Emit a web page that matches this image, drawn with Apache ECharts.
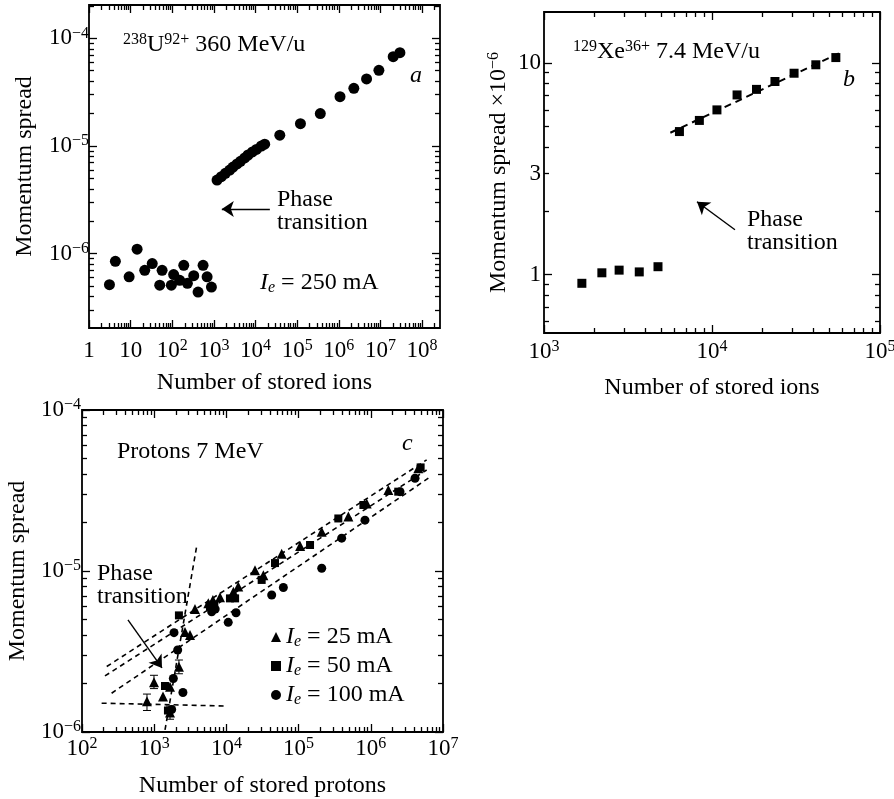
<!DOCTYPE html>
<html>
<head>
<meta charset="utf-8">
<title>Momentum spread vs number of stored particles</title>
<script src="https://cdn.jsdelivr.net/npm/echarts@6/dist/echarts.min.js"></script>
<style>
  html, body { margin: 0; padding: 0; background: #fff; }
  #chart { width: 894px; height: 799px; }
</style>
</head>
<body>
<div id="chart"></div>
<script>
const SERIF = '"Liberation Serif", "Times New Roman", Times, serif';
const INK = '#000';

// ---- panel a: 238U92+ 360 MeV/u, Ie = 250 mA ----
const uIonsLow = [3.1, 4.3, 9.2, 14.3, 21.8, 33, 50, 57, 95, 108, 151, 189, 231, 328, 417, 550, 687, 872];
const uSpreadLow = [5.15e-7, 8.5e-7, 6.1e-7, 1.1e-6, 7.0e-7, 8.1e-7, 5.1e-7, 7.0e-7, 5.1e-7, 6.4e-7, 5.65e-7, 7.8e-7, 5.3e-7, 6.25e-7, 4.4e-7, 7.8e-7, 6.1e-7, 4.9e-7];
const uIonsHigh = [1190, 1510, 1890, 2400, 2880, 3610, 4350, 5500, 6610, 8430, 10500, 13800, 16600, 38300, 1.2e5, 3.6e5, 1.07e6, 2.3e6, 4.65e6, 9.2e6, 2.03e7, 2.94e7];
const uSpreadHigh = [4.83e-6, 5.19e-6, 5.57e-6, 5.98e-6, 6.38e-6, 6.81e-6, 7.21e-6, 7.74e-6, 8.25e-6, 8.8e-6, 9.3e-6, 1.0e-5, 1.04e-5, 1.26e-5, 1.61e-5, 2.0e-5, 2.87e-5, 3.43e-5, 4.2e-5, 5.05e-5, 6.76e-5, 7.36e-5];
const arrowA = [[22100, 2.6e-6], [1550, 2.6e-6]];

// ---- panel b: 129Xe36+ 7.4 MeV/u (spread in units of 1e-6) ----
const xeIons = [1680, 2210, 2800, 3690, 4770, 6400, 8410, 10700, 14100, 18400, 23700, 30800, 41500, 54600];
const xeSpread = [0.91, 1.02, 1.05, 1.03, 1.09, 4.74, 5.35, 6.0, 7.06, 7.5, 8.17, 8.94, 9.8, 10.6];
const xeFit = [[5650, 4.68], [56900, 11.1]];
const arrowB = [[13700, 1.63], [8140, 2.21]];

// ---- panel c: protons 7 MeV ----
const p25Ions = [794, 993, 1325, 1656, 1656, 2200, 2670, 3130, 3670, 5620, 6500, 8150, 12500, 14600, 24900, 32500, 58300, 1.05e5, 2.09e5, 4.89e5, 8.77e5, 1.75e6, 4.55e6];
const p25Spread = [1.55e-6, 2.04e-6, 1.66e-6, 1.91e-6, 1.32e-6, 2.54e-6, 4.18e-6, 4.0e-6, 5.8e-6, 6.3e-6, 6.6e-6, 6.86e-6, 7.44e-6, 8.0e-6, 1.01e-5, 9.4e-6, 1.28e-5, 1.43e-5, 1.75e-5, 2.18e-5, 2.63e-5, 3.19e-5, 4.35e-5];
const p50Ions = [1410, 1550, 2200, 5930, 6800, 11200, 13200, 30800, 47100, 1.44e5, 3.55e5, 7.9e5, 2.4e6, 4.9e6];
const p50Spread = [1.93e-6, 1.36e-6, 5.3e-6, 6.0e-6, 6.2e-6, 6.76e-6, 6.76e-6, 8.8e-6, 1.12e-5, 1.45e-5, 2.12e-5, 2.57e-5, 3.11e-5, 4.4e-5];
const p100Ions = [1746, 1840, 1880, 2115, 2500, 6250, 7000, 10600, 13600, 42400, 61500, 2.09e5, 3.95e5, 8.3e5, 2.54e6, 4.1e6];
const p100Spread = [1.38e-6, 2.15e-6, 4.14e-6, 3.23e-6, 1.76e-6, 5.58e-6, 5.8e-6, 4.8e-6, 5.5e-6, 7.1e-6, 7.9e-6, 1.04e-5, 1.6e-5, 2.07e-5, 3.11e-5, 3.77e-5];
const errIons = [794, 993, 1656, 2200];
const errLow = [1.36e-6, 1.86e-6, 1.2e-6, 2.3e-6];
const errHigh = [1.72e-6, 2.25e-6, 1.45e-6, 2.8e-6];
const fitUpper = [[220, 2.55e-6], [5.94e6, 4.9e-5]];
const fitMiddle = [[208, 2.23e-6], [5.94e6, 4.24e-5]];
const fitLower = [[257, 1.74e-6], [6.27e6, 3.77e-5]];
const fitSteep = [[1412, 1.03e-6], [3870, 1.42e-5]];
const fitFlat = [[187, 1.51e-6], [10000, 1.45e-6]];
const arrowC = [[433, 4.97e-6], [1282, 2.5e-6]];

// tick labels
const xLabelsA = [1, 10, 1e2, 1e3, 1e4, 1e5, 1e6, 1e7, 1e8];
const yLabelsA = [1e-6, 1e-5, 1e-4];
const xLabelsB = [1e3, 1e4, 1e5];
const yLabelsB = [1, 3, 10];
const yMajorB = [1, 10];
const xLabelsC = [1e2, 1e3, 1e4, 1e5, 1e6, 1e7];
const yLabelsC = [1e-6, 1e-5, 1e-4];

const RICH = {
  n: { fontFamily: SERIF, fontSize: 23, lineHeight: 26, color: INK, fill: INK },
  s: { fontFamily: SERIF, fontSize: 16, lineHeight: 15, verticalAlign: 'top', color: INK, fill: INK },
  e: { fontFamily: SERIF, fontSize: 16, lineHeight: 14, fontStyle: 'italic', verticalAlign: 'bottom', color: INK, fill: INK },
  i: { fontFamily: SERIF, fontSize: 24, lineHeight: 26, fontStyle: 'italic', color: INK, fill: INK },
  t: { fontFamily: SERIF, fontSize: 24, lineHeight: 26, color: INK, fill: INK },
};

const zip = (xs, ys) => xs.map((x, i) => [x, ys[i]]);

function minorTicks(min, max) {
  const out = [];
  for (let d = Math.floor(Math.log10(min)); d <= Math.ceil(Math.log10(max)); d++) {
    for (let k = 2; k <= 9; k++) {
      const v = k * Math.pow(10, d);
      if (v > min && v < max) out.push(v);
    }
  }
  return out;
}

function powLabel(v) {
  const e = Math.round(Math.log10(v));
  if (e === 0) return '{n|1}';
  if (e === 1) return '{n|10}';
  return '{n|10}{s|' + (e < 0 ? '\u2212' + (-e) : e) + '}';
}

const xAxes = [];
const yAxes = [];

// four stacked axes per direction: labelled major, minor, mirrored major, mirrored minor
function logAxes(dim, grid, range, opt) {
  const list = dim === 'x' ? xAxes : yAxes;
  const sides = dim === 'x' ? ['bottom', 'top'] : ['left', 'right'];
  const first = list.length;
  const minors = minorTicks(range[0], range[1]);
  sides.forEach((side, s) => {
    [opt.majors, minors].forEach((ticks, m) => {
      const main = s === 0 && m === 0;
      list.push({
        type: 'log',
        logBase: 10,
        gridIndex: grid,
        position: side,
        min: range[0],
        max: range[1],
        silent: true,
        axisLine: { show: false, onZero: false },
        splitLine: { show: false },
        axisTick: {
          show: true,
          inside: true,
          length: m === 0 ? 8 : 5,
          customValues: ticks,
          lineStyle: { color: INK, width: 1.3 },
        },
        axisLabel: main ? {
          show: true,
          customValues: opt.labels,
          formatter: opt.format,
          margin: opt.margin,
          color: INK,
          fontFamily: SERIF,
          fontSize: 23,
          rich: RICH,
        } : { show: false },
        name: main ? opt.name : '',
        nameLocation: 'middle',
        nameGap: opt.nameGap,
        nameTextStyle: { color: INK, fontFamily: SERIF, fontSize: 24, rich: RICH },
      });
    });
  });
  return first;
}

const grids = [
  { left: 89, top: 5, width: 351, height: 323 },
  { left: 544, top: 12, width: 336, height: 321 },
  { left: 82, top: 410, width: 361, height: 322 },
].map((g) => ({ ...g, show: true, borderColor: INK, borderWidth: 1.8, backgroundColor: 'transparent', containLabel: false, outerBoundsMode: 'none' }));

const xa = logAxes('x', 0, [1, 2.7e8], { majors: xLabelsA, labels: xLabelsA, format: powLabel, margin: 10, name: 'Number of stored ions', nameGap: 43 });
const ya = logAxes('y', 0, [2.04e-7, 2.04e-4], { majors: yLabelsA, labels: yLabelsA, format: powLabel, margin: 0, name: 'Momentum spread', nameGap: 52 });
const xb = logAxes('x', 1, [999.9, 100010], { majors: xLabelsB, labels: xLabelsB, format: powLabel, margin: 6, name: 'Number of stored ions', nameGap: 43 });
const yb = logAxes('y', 1, [0.53, 17.4], { majors: yMajorB, labels: yLabelsB, format: (v) => '{n|' + v + '}', margin: 3, name: '{t|Momentum spread \u00d710}{s|\u22126}', nameGap: 32 });
const xc = logAxes('x', 2, [99.99, 1.0001e7], { majors: xLabelsC, labels: xLabelsC, format: powLabel, margin: 4, name: 'Number of stored protons', nameGap: 42 });
const yc = logAxes('y', 2, [0.9999e-6, 1.0001e-4], { majors: yLabelsC, labels: yLabelsC, format: powLabel, margin: 1, name: 'Momentum spread', nameGap: 52 });

function arrowLine(pts) {
  return {
    silent: true,
    animation: false,
    symbol: ['none', 'arrow'],
    symbolSize: 12,
    label: { show: false },
    emphasis: { disabled: true },
    lineStyle: { color: INK, width: 1.4, type: 'solid' },
    data: [[{ coord: pts[0] }, { coord: pts[1] }]],
  };
}

function dots(name, xi, yi, data, symbol, size, extra) {
  return {
    name, type: 'scatter', xAxisIndex: xi, yAxisIndex: yi, data,
    symbol, symbolSize: size, itemStyle: { color: INK, opacity: 1 },
    silent: true, z: 3, ...extra,
  };
}

function dashed(xi, yi, data, width, dash) {
  return {
    type: 'line', xAxisIndex: xi, yAxisIndex: yi, data,
    symbol: 'none', silent: true,
    lineStyle: { color: INK, width, type: dash },
  };
}

const series = [
  dots('U low', xa, ya, zip(uIonsLow, uSpreadLow), 'circle', 11),
  dots('U high', xa, ya, zip(uIonsHigh, uSpreadHigh), 'circle', 11, { markLine: arrowLine(arrowA) }),

  dashed(xb, yb, xeFit, 2, [7, 5]),
  dots('Xe', xb, yb, zip(xeIons, xeSpread), 'rect', 9, { markLine: arrowLine(arrowB) }),

  dashed(xc, yc, fitUpper, 1.6, [5, 4]),
  dashed(xc, yc, fitMiddle, 1.6, [5, 4]),
  dashed(xc, yc, fitLower, 1.6, [5, 4]),
  dashed(xc, yc, fitSteep, 1.6, [5, 4]),
  dashed(xc, yc, fitFlat, 1.6, [5, 4]),
  {
    type: 'custom', xAxisIndex: xc, yAxisIndex: yc, silent: true,
    data: errIons.map((x, i) => [x, errLow[i], errHigh[i]]),
    renderItem(params, api) {
      const lo = api.coord([api.value(0), api.value(1)]);
      const hi = api.coord([api.value(0), api.value(2)]);
      const st = { stroke: INK, lineWidth: 1 };
      return {
        type: 'group',
        children: [
          { type: 'line', shape: { x1: lo[0], y1: lo[1], x2: hi[0], y2: hi[1] }, style: st },
          { type: 'line', shape: { x1: lo[0] - 4, y1: lo[1], x2: lo[0] + 4, y2: lo[1] }, style: st },
          { type: 'line', shape: { x1: hi[0] - 4, y1: hi[1], x2: hi[0] + 4, y2: hi[1] }, style: st },
        ],
      };
    },
  },
  dots('25', xc, yc, zip(p25Ions, p25Spread), 'triangle', 10, { markLine: arrowLine(arrowC) }),
  dots('50', xc, yc, zip(p50Ions, p50Spread), 'rect', 8),
  dots('100', xc, yc, zip(p100Ions, p100Spread), 'circle', 9),
];

function note(x, y, text, style) {
  return {
    type: 'text', x, y, silent: true, z: 10,
    style: { text, fill: INK, font: '24px ' + SERIF, align: 'left', verticalAlign: 'middle', rich: RICH, ...style },
  };
}
const italic = { font: 'italic 24px ' + SERIF };

const graphics = [
  note(123, 45, '{s|238}{t|U}{s|92+}{t| 360 MeV/u}'),
  note(410, 76, 'a', italic),
  note(277, 200, 'Phase'),
  note(277, 223, 'transition'),
  note(260, 283, '{i|I}{e|e}{t| = 250 mA}'),

  note(573, 52, '{s|129}{t|Xe}{s|36+}{t| 7.4 MeV/u}'),
  note(843, 80, 'b', italic),
  note(747, 220, 'Phase'),
  note(747, 243, 'transition'),

  note(117, 452, 'Protons 7 MeV'),
  note(402, 444, 'c', italic),
  note(97, 574, 'Phase'),
  note(97, 597, 'transition'),
];

const chart = echarts.init(document.getElementById('chart'), null, { renderer: 'canvas' });
chart.setOption({
  animation: false,
  backgroundColor: '#fff',
  textStyle: { fontFamily: SERIF, color: INK },
  grid: grids,
  xAxis: xAxes,
  yAxis: yAxes,
  legend: {
    data: ['25', '50', '100'],
    orient: 'vertical',
    left: 266,
    top: 620,
    itemWidth: 10,
    itemHeight: 10,
    itemGap: 4,
    selectedMode: false,
    formatter: (n) => '{i|I}{e|e}{t| = ' + n + ' mA}',
    textStyle: { color: INK, fontFamily: SERIF, fontSize: 24, rich: RICH },
  },
  series,
  graphic: graphics,
});
</script>
</body>
</html>
